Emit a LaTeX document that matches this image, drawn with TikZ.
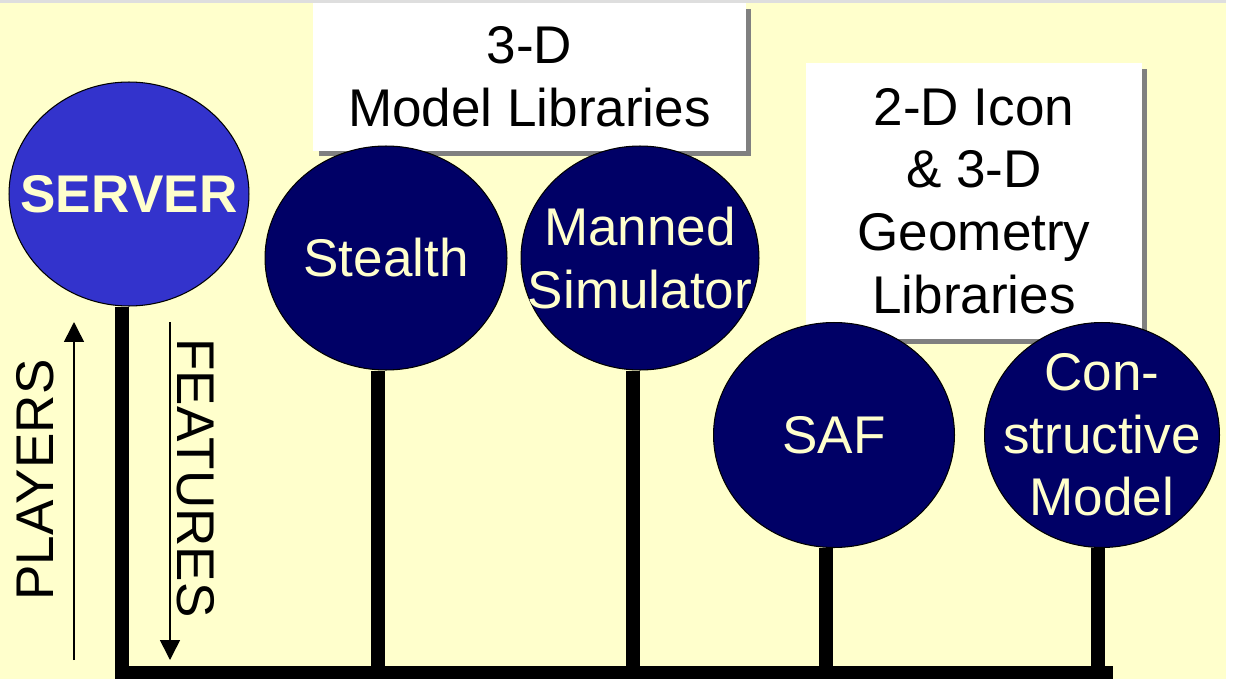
\documentclass[tikz,border=0pt]{standalone}
\usepackage{fontspec}
\setmainfont{Liberation Sans}
\usetikzlibrary{shapes,arrows.meta,positioning,shadows}

\definecolor{paper}{HTML}{FFFFCC}
\definecolor{serverblue}{HTML}{3333CC}
\definecolor{navy}{HTML}{000066}

\begin{document}
\begin{tikzpicture}[
    x=0.02cm, y=-0.02cm,
    bigfont/.style={font=\fontsize{30.2}{35.7}\selectfont},
    player/.style={ellipse, draw=black, line width=0.6pt, fill=navy, inner sep=0pt},
    playertext/.style={text=paper, align=center, inner sep=0pt, bigfont},
    library/.style={rectangle, fill=white, align=center, bigfont, drop shadow={shadow xshift=0.11cm, shadow yshift=-0.11cm, fill=gray, opacity=1}},
    stem/.style={line width=0.28cm},
    flow/.style={line width=0.9pt, -{Triangle[width=0.4cm,length=0.4cm]}}
]

% Background
\fill[white] (0,0) rectangle (1234,679);
\fill[paper] (0,0) rectangle (1226,679);
\fill[black!13] (0,0) rectangle (1226,3);
\useasboundingbox (0,0) rectangle (1234,679);

% Library boxes
\node[library, minimum width=8.66cm, minimum height=2.96cm] (lib3d) at (529.5,77) {3-D\\Model Libraries};
\node[library, minimum width=6.72cm, minimum height=5.52cm] (lib2d) at (974,201) {2-D Icon\\\& 3-D\\Geometry\\Libraries};

% Players
\node[player, fill=serverblue, minimum width=4.8cm, minimum height=4.48cm,
      label={[playertext, font=\fontsize{30.2}{35.7}\selectfont\bfseries]center:SERVER}] (server) at (129,194) {};
\node[player, minimum width=4.84cm, minimum height=4.48cm,
      label={[playertext]center:Stealth}] (stealth) at (386,258) {};
\node[player, minimum width=4.76cm, minimum height=4.48cm,
      label={[playertext]center:Manned\\Simulator}] (manned) at (640,258) {};
\node[player, minimum width=4.82cm, minimum height=4.5cm,
      label={[playertext]center:SAF}] (saf) at (834,435) {};
\node[player, minimum width=4.7cm, minimum height=4.5cm,
      label={[playertext]center:Con-\\structive\\Model}] (cons) at (1102,435) {};

% Bus and stems
\coordinate (busend) at (1113,673);
\draw[stem] ([xshift=-0.14cm]server.south) |- (busend);
\draw[stem] ([xshift=-0.16cm]stealth.south) -- ([xshift=-0.16cm]stealth.south |- busend);
\draw[stem] ([xshift=-0.14cm]manned.south) -- ([xshift=-0.14cm]manned.south |- busend);
\draw[stem] ([xshift=-0.16cm]saf.south) -- ([xshift=-0.16cm]saf.south |- busend);
\draw[stem] ([xshift=-0.08cm]cons.south) -- ([xshift=-0.08cm]cons.south |- busend);

% Direction arrows
\coordinate (plbot) at (74,660);
\coordinate (pltop) at (74,322);
\coordinate (fetop) at (170,322);
\coordinate (febot) at (170,660);
\draw[flow] (plbot) -- (pltop);
\draw[flow] (fetop) -- (febot);
\node[bigfont, rotate=90] (players) at (35,480) {PLAYERS};
\node[bigfont, rotate=-90] (features) at (196,478) {FEATURES};

\end{tikzpicture}
\end{document}
